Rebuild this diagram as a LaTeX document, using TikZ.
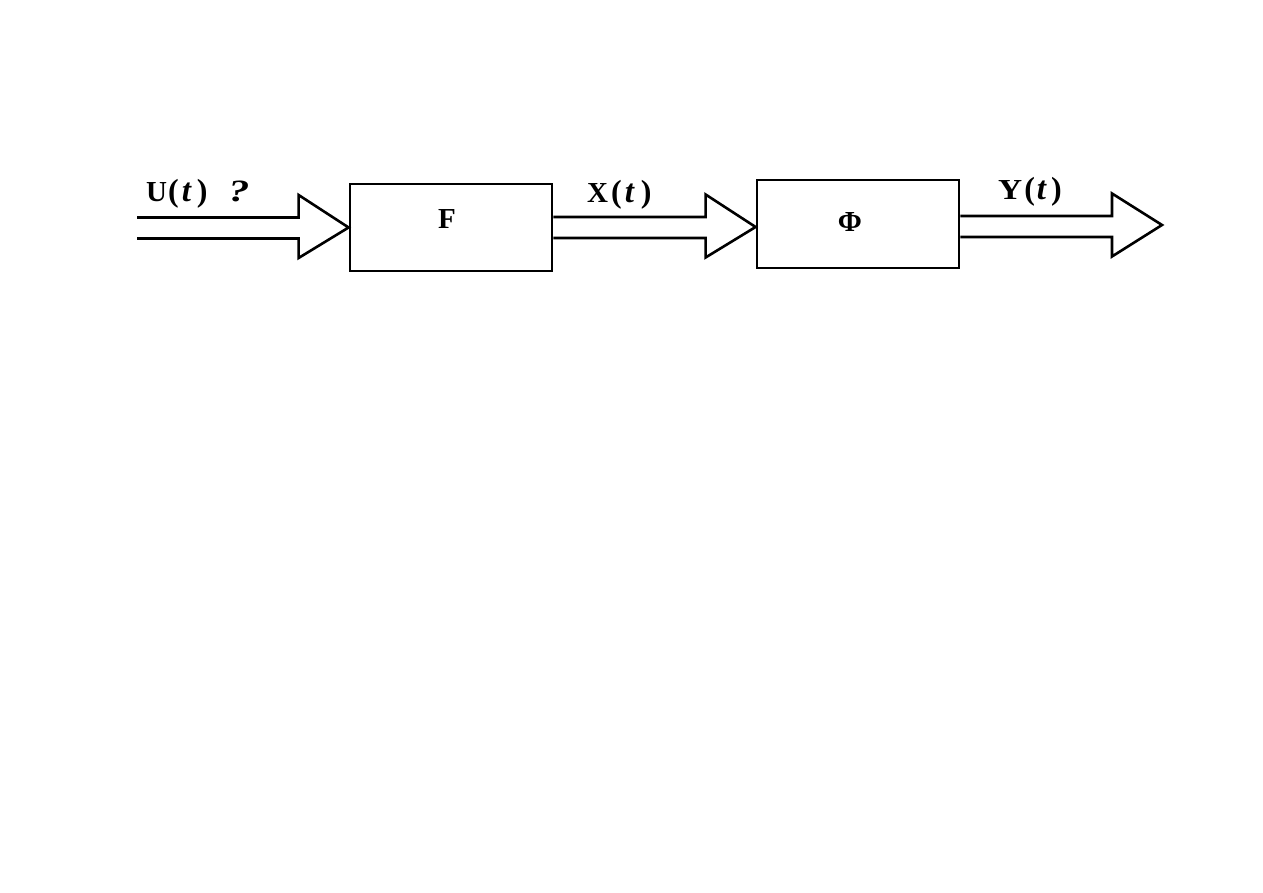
\documentclass[tikz,border=0pt]{standalone}
\usepackage{fontspec}
\usepackage{graphicx}
\setmainfont{Liberation Serif}
\usetikzlibrary{calc}
\newcommand\bigpar[1]{{\fontsize{32}{32}\selectfont #1}}
\newcommand\bigt{{\fontsize{33}{33}\selectfont\itshape t}}
\newcommand\bigq{{\fontsize{31}{31}\selectfont\itshape\scalebox{1.35}[1]{?}}}
\begin{document}
\begin{tikzpicture}[x=1pt,y=1pt,
  blockbox/.style={draw=black,line width=2.8pt,minimum width=202pt,minimum height=87pt,inner sep=0pt},
  hollow/.style={draw=black,line width=2.6pt,line join=miter},
  lbl/.style={anchor=base,inner sep=0pt,font=\fontsize{29}{30}\selectfont\bfseries},
]
\useasboundingbox (0,0) rectangle (1263,893);
\fill[white] (0,0) rectangle (1263,893);
% blocks
\node[blockbox] (F) at (451,665.5) {};
\node[blockbox,minimum height=88pt] (P) at (858,669) {};
\node[lbl] (Ft) at (447,664) {F};
\node[lbl] (Pt) at (850,661) {Φ};
% free ends and attachment points
\coordinate (in) at (137,665);
\coordinate (out) at (1162,668);
\coordinate (Pin) at ($(P.west)+(0,-3)$);
\coordinate (Pout) at ($(P.east)+(0,-2.5)$);
% hollow arrows: shaft at start's height, head ending at the tip
\newcommand\hollowarrow[2]{%
  \draw[hollow] let \p1=(#1), \p2=(#2) in
    (\x1,\y1+10.5) -- (\x2-50,\y1+10.5) -- (\x2-50,\y1+33) -- (\p2)
    -- (\x2-50,\y1-30) -- (\x2-50,\y1-10.5) -- (\x1,\y1-10.5);}
\hollowarrow{in}{F.west}
\hollowarrow{F.east}{Pin}
\hollowarrow{Pout}{out}
% labels
\node[lbl,anchor=base west] (U) at (146,691) {U\hspace{1pt}\bigpar(\hspace{3pt}\bigt\hspace{6pt}\bigpar)\hspace{21pt}\bigq};
\node[lbl,anchor=base west] (X) at (587,690) {X\hspace{3pt}\bigpar(\hspace{3pt}\bigt\hspace{7pt}\bigpar)};
\node[lbl,anchor=base west] (Y) at (998,693) {\scalebox{1.15}[1]{Y}\hspace{2pt}\bigpar(\hspace{2pt}\bigt\hspace{5pt}\bigpar)};
\end{tikzpicture}
\end{document}
